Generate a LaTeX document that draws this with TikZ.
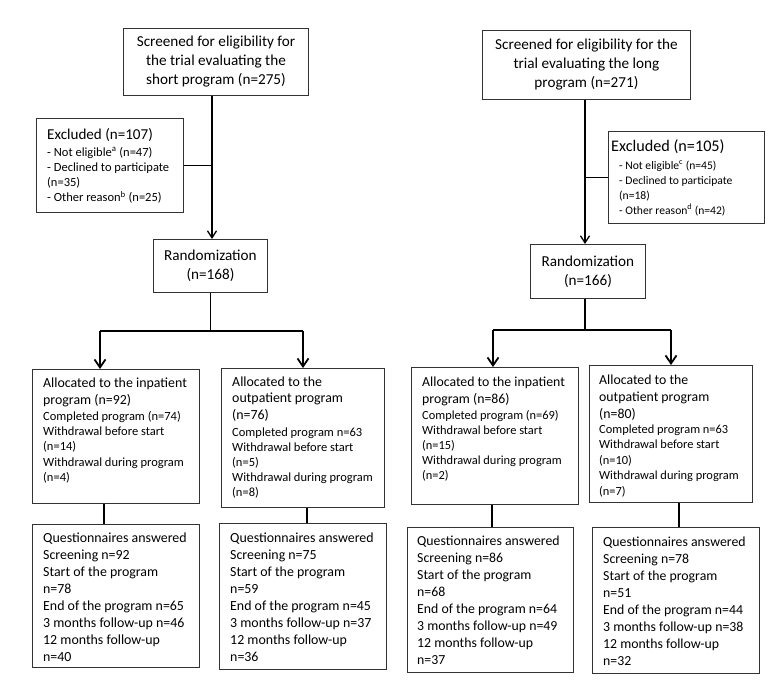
\documentclass[tikz,border=0pt]{standalone}
\usepackage{fontspec}
\setmainfont{Carlito}
\usetikzlibrary{arrows.meta}
\newcommand{\rowsat}[3]{{\fontsize{#1}{#2}\selectfont\begin{tabular}[t]{@{}l@{}}#3\end{tabular}}}
\tikzset{
  box/.style={draw=black!80, line width=0.9pt, inner sep=0pt, anchor=north west},
  cbox/.style={box, align=center, font=\fontsize{15.2}{19}\selectfont},
  txt/.style={inner sep=0pt, anchor=base west},
  conn/.style={draw=black, line width=1.1pt},
  trunkarr/.style={draw=black, line width=1.3pt, -{Straight Barb[length=7pt,width=9pt,line width=1.3pt]}},
  brarr/.style={draw=black, line width=1.8pt, -{Straight Barb[length=8pt,width=11pt,line width=1.8pt]}}
}
\begin{document}
\begin{tikzpicture}[x=1pt,y=-1pt]
\useasboundingbox[fill=white] (0,0) rectangle (783,681);

% ---------------- left trial ----------------
\node[cbox, minimum width=185pt, minimum height=67pt] (scrL) at (123,28)
  {Screened for eligibility for\\the trial evaluating the\\short program (n=275)};
\node[box, minimum width=147pt, minimum height=94pt] (exL) at (36,118) {};
\node[txt, font=\fontsize{15.1}{19}\selectfont] (exLh) at (47,139) {Excluded (n=107)};
\node[txt] (exLs) at (47,156) {\rowsat{12.5}{15.3}{- Not eligible\textsuperscript{a} (n=47)\\- Declined to participate\\(n=35)\\- Other reason\textsuperscript{b} (n=25)}};
\node[cbox, minimum width=114pt, minimum height=53pt] (randL) at (153,239)
  {Randomization\\(n=168)};

\node[box, minimum width=167pt, minimum height=134pt] (alL1) at (32,369) {};
\node[txt] (alL1h) at (43,387) {\rowsat{13.9}{17.5}{Allocated to the inpatient\\program (n=92)}};
\node[txt] (alL1s) at (43,420) {\rowsat{12.5}{15.4}{Completed program (n=74)\\Withdrawal before start\\(n=14)\\Withdrawal during program\\(n=4)}};

\node[box, minimum width=163pt, minimum height=139pt] (alL2) at (221,368) {};
\node[txt] (alL2h) at (232,386) {\rowsat{13.9}{16.5}{Allocated to the\\outpatient program\\(n=76)}};
\node[txt] (alL2s) at (232,436) {\rowsat{12.5}{15.2}{Completed program n=63\\Withdrawal before start\\(n=5)\\Withdrawal during program\\(n=8)}};

\node[box, minimum width=167pt, minimum height=143pt] (qL1) at (32,524) {};
\node[txt] (qL1t) at (43,542) {\rowsat{13.9}{17}{Questionnaires answered\\Screening n=92\\Start of the program\\n=78\\End of the program n=65\\3 months follow-up n=46\\12 months follow-up\\n=40}};

\node[box, minimum width=167pt, minimum height=146pt] (qL2) at (219,523) {};
\node[txt] (qL2t) at (230,542) {\rowsat{13.9}{17}{Questionnaires answered\\Screening n=75\\Start of the program\\n=59\\End of the program n=45\\3 months follow-up n=37\\12 months follow-up\\n=36}};

% connectors left
\coordinate (tL) at (212,0);
\coordinate (bL1) at (100,331);
\coordinate (bL2) at (303,331);
\coordinate (cL1) at (104,0);
\coordinate (cL2) at (307,0);
\draw[trunkarr] (scrL.south -| tL) -- (randL.north -| tL);
\draw[conn] (exL.east) -- (exL.east -| tL);
\draw[conn] (randL.south) -- (randL.south |- bL1);
\draw[conn] (bL1) -- (bL2);
\draw[brarr] (bL1) -- (bL1 |- alL1.north);
\draw[brarr] (bL2) -- (bL2 |- alL2.north);
\draw[conn] (alL1.south -| cL1) -- (qL1.north -| cL1);
\draw[conn] (alL2.south -| cL2) -- (qL2.north -| cL2);

% ---------------- right trial ----------------
\node[cbox, minimum width=208pt, minimum height=69pt] (scrR) at (482,30)
  {Screened for eligibility for the\\trial evaluating the long\\program (n=271)};
\node[box, minimum width=156pt, minimum height=92pt] (exR) at (608,131) {};
\node[txt, font=\fontsize{16.2}{19}\selectfont] (exRh) at (611,151) {Excluded (n=105)};
\node[txt] (exRs) at (619,169) {\rowsat{11.6}{15}{- Not eligible\textsuperscript{c} (n=45)\\- Declined to participate\\(n=18)\\- Other reason\textsuperscript{d} (n=42)}};
\node[cbox, minimum width=115pt, minimum height=54pt] (randR) at (530,244)
  {Randomization\\(n=166)};

\node[box, minimum width=167pt, minimum height=137pt] (alR1) at (411,367) {};
\node[txt] (alR1h) at (422,386) {\rowsat{13.8}{17}{Allocated to the inpatient\\program (n=86)}};
\node[txt] (alR1s) at (422,419) {\rowsat{12.4}{15}{Completed program (n=69)\\Withdrawal before start\\(n=15)\\Withdrawal during program\\(n=2)}};

\node[box, minimum width=163pt, minimum height=137pt] (alR2) at (589,365) {};
\node[txt] (alR2h) at (599,384) {\rowsat{13.8}{17}{Allocated to the\\outpatient program\\(n=80)}};
\node[txt] (alR2s) at (599,433) {\rowsat{12.4}{15.5}{Completed program n=63\\Withdrawal before start\\(n=10)\\Withdrawal during program\\(n=7)}};

\node[box, minimum width=166pt, minimum height=145pt] (qR1) at (407,527) {};
\node[txt] (qR1t) at (417,545) {\rowsat{13.8}{17}{Questionnaires answered\\Screening n=86\\Start of the program\\n=68\\End of the program n=64\\3 months follow-up n=49\\12 months follow-up\\n=37}};

\node[box, minimum width=167pt, minimum height=146pt] (qR2) at (592,527) {};
\node[txt] (qR2t) at (603,546) {\rowsat{13.8}{17}{Questionnaires answered\\Screening n=78\\Start of the program\\n=51\\End of the program n=44\\3 months follow-up n=38\\12 months follow-up\\n=32}};

% connectors right
\coordinate (tR) at (585,0);
\coordinate (bR1) at (493,330);
\coordinate (bR2) at (671,330);
\coordinate (cR1) at (492,0);
\coordinate (cR2) at (679,0);
\draw[trunkarr] (scrR.south -| tR) -- (randR.north -| tR);
\draw[conn] (exR.west) -- (exR.west -| tR);
\draw[conn] (randR.south -| tR) -- (bR1 -| tR);
\draw[conn] (bR1) -- (bR2);
\draw[brarr] (bR1) -- (bR1 |- alR1.north);
\draw[brarr] (bR2) -- (bR2 |- alR2.north);
\draw[conn] (alR1.south -| cR1) -- (qR1.north -| cR1);
\draw[conn] (alR2.south -| cR2) -- (qR2.north -| cR2);
\end{tikzpicture}
\end{document}
